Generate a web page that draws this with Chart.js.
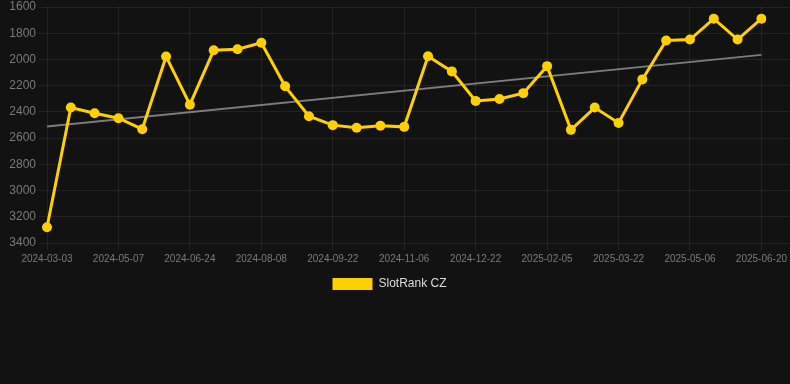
<!DOCTYPE html>
<html>
<head>
<meta charset="utf-8">
<script src="https://cdn.jsdelivr.net/npm/chart.js@4.4.1/dist/chart.umd.min.js"></script>
<style>
  html, body { margin: 0; padding: 0; background: #121212; }
  #wrap { width: 790px; height: 384px; }
</style>
</head>
<body>
<div id="wrap"><canvas id="rankChart"></canvas></div>
<script>
const dates = [
  '2024-03-03', '2024-03-25', '2024-04-16', '2024-05-07', '2024-05-23', '2024-06-08',
  '2024-06-24', '2024-07-09', '2024-07-24', '2024-08-08', '2024-08-23', '2024-09-07',
  '2024-09-22', '2024-10-07', '2024-10-22', '2024-11-06', '2024-11-21', '2024-12-07',
  '2024-12-22', '2025-01-06', '2025-01-21', '2025-02-05', '2025-02-20', '2025-03-07',
  '2025-03-22', '2025-04-06', '2025-04-21', '2025-05-06', '2025-05-21', '2025-06-05',
  '2025-06-20'
];
const ranks = [
  3280, 2367, 2410, 2448, 2532, 1977, 2345, 1930, 1922, 1873, 2205, 2433,
  2501, 2521, 2506, 2514, 1975, 2091, 2316, 2301, 2257, 2051, 2537, 2367,
  2484, 2152, 1856, 1848, 1689, 1848, 1689
];
const trendEnds = [2511, 1965];
const yTicks = [1600, 3400, 200]; // min, max, step

const yellow = 'rgb(255, 208, 0)';
const gridColor = 'rgba(255, 255, 255, 0.07)';
const tickColor = '#7a7a7a';
const fontFamily = 'Liberation Sans, Arial, sans-serif';

const chartElem = document.getElementById('rankChart').getContext('2d');

const chartData = {
  labels: dates,
  datasets: [
    {
      label: 'SlotRank CZ',
      data: ranks,
      borderColor: yellow,
      backgroundColor: yellow,
      borderWidth: 3,
      pointRadius: 5,
      pointBackgroundColor: yellow,
      pointBorderWidth: 0,
      tension: 0,
    },
    {
      label: 'trend',
      data: [
        { x: dates[0], y: trendEnds[0] },
        { x: dates[dates.length - 1], y: trendEnds[1] },
      ],
      borderColor: 'rgba(160, 160, 160, 0.75)',
      borderWidth: 2,
      pointRadius: 0,
      fill: false,
    },
  ]
};

const chartConfig = {
  type: 'line',
  data: chartData,
  options: {
    responsive: true,
    maintainAspectRatio: false,
    animation: false,
    layout: {
      padding: { left: 0, right: 11, bottom: 84 }
    },
    scales: {
      x: {
        grid: { color: gridColor, tickLength: 7 },
        border: { display: false },
        ticks: {
          color: tickColor,
          font: { family: fontFamily, size: 10 },
          autoSkip: false,
          maxRotation: 0,
          callback: function (val, i) {
            return i % 3 === 0 ? dates[i] : null;
          }
        }
      },
      y: {
        reverse: true,
        min: yTicks[0],
        max: yTicks[1],
        grid: { color: gridColor, tickLength: 8 },
        border: { display: false },
        afterFit: function (scale) { scale.width = 47; },
        ticks: {
          stepSize: yTicks[2],
          color: tickColor,
          padding: 3,
          font: { family: fontFamily, size: 12, lineHeight: 0.67 },
          callback: function (val) { return String(val); }
        }
      },
      yRight: {
        position: 'right',
        reverse: true,
        min: yTicks[0],
        max: yTicks[1],
        grid: { color: gridColor, drawOnChartArea: false, tickLength: 28 },
        border: { display: false },
        afterFit: function (scale) { scale.width = 17; },
        ticks: { display: false, stepSize: yTicks[2] }
      }
    },
    plugins: {
      legend: {
        position: 'bottom',
        labels: {
          boxWidth: 40,
          boxHeight: 12,
          color: '#dddddd',
          font: { family: fontFamily, size: 12 },
          filter: function (item) { return item.datasetIndex === 0; },
          generateLabels: function (chart) {
            const items = Chart.defaults.plugins.legend.labels.generateLabels(chart);
            items.forEach(function (it) { it.lineWidth = 0; });
            return items;
          }
        }
      },
      title: { display: false },
      tooltip: { enabled: false }
    }
  }
};

const rankChart = new Chart(chartElem, chartConfig);
</script>
</body>
</html>
